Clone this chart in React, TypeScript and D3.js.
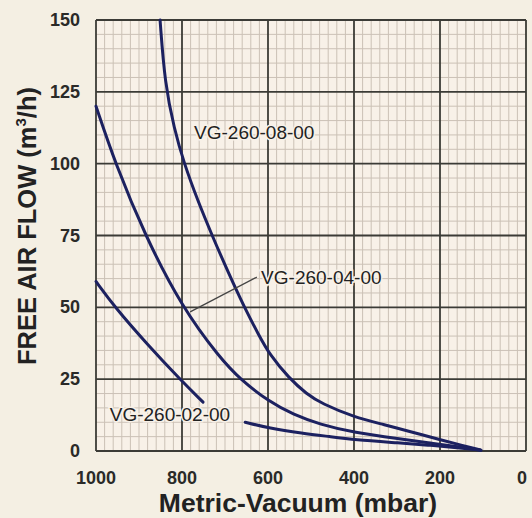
import { useEffect, useRef } from 'react'
import * as d3 from 'd3'

// vacuum (mbar) -> free air flow (m3/h)
const curve08: [number, number][] = [
  [851, 150], [840, 128], [818, 112], [795, 100], [763, 87], [730, 75],
  [692, 62], [655, 50], [622, 40.5], [596, 33.5], [552, 25.5], [510, 19.8],
  [475, 16.5], [400, 11.8], [330, 9.2], [270, 6.8], [200, 3.9], [150, 2], [105, 0.3],
]
const curve04: [number, number][] = [
  [1000, 120], [955, 100], [886, 75], [800, 50], [712, 32.4],
  [665, 25], [598, 17.2], [540, 12.6], [480, 9.3], [400, 6.4],
  [293, 4.2], [223, 2.8], [150, 1.3], [105, 0.3],
]
const curve02a: [number, number][] = [
  [1000, 59], [956, 50], [880, 37], [805, 25], [751, 17],
]
const curve02b: [number, number][] = [
  [653, 10], [598, 8], [520, 6.2], [456, 5], [400, 3.9],
  [293, 2.8], [223, 2], [150, 1], [105, 0.3],
]
const xTicks = [1000, 800, 600, 400, 200, 0]
const yTicks = [0, 25, 50, 75, 100, 125, 150]

const W = 532
const H = 518
const margin = { top: 20, right: 6, bottom: 67, left: 96 }

export default function App() {
  const svgRef = useRef<SVGSVGElement>(null)

  useEffect(() => {
    if (!svgRef.current) return
    const svg = d3.select(svgRef.current)
    svg.selectAll('*').remove()

    const x = d3.scaleLinear().domain([1000, 0]).range([margin.left, W - margin.right])
    const y = d3.scaleLinear().domain([0, 150]).range([H - margin.bottom, margin.top])

    svg.append('rect').attr('width', W).attr('height', H).attr('fill', '#f4efe3')
    svg.append('rect')
      .attr('x', x(1000)).attr('y', y(150))
      .attr('width', x(0) - x(1000)).attr('height', y(0) - y(150))
      .attr('fill', '#f8f1e8')

    // minor grid
    const g = svg.append('g')
    g.selectAll('line.mx')
      .data(d3.range(0, 1001, 20).filter(v => v % 200 !== 0))
      .join('line')
      .attr('x1', d => x(d)).attr('x2', d => x(d))
      .attr('y1', y(0)).attr('y2', y(150))
      .attr('stroke', '#cbc1b6').attr('stroke-width', 1)
    g.selectAll('line.my')
      .data(d3.range(0, 151, 5).filter(v => v % 25 !== 0))
      .join('line')
      .attr('y1', d => y(d)).attr('y2', d => y(d))
      .attr('x1', x(1000)).attr('x2', x(0))
      .attr('stroke', '#cbc1b6').attr('stroke-width', 1)

    // major grid
    const mj = svg.append('g')
    mj.selectAll('line.vx')
      .data(xTicks)
      .join('line')
      .attr('x1', d => x(d)).attr('x2', d => x(d))
      .attr('y1', y(0)).attr('y2', y(150))
      .attr('stroke', '#3b3b36').attr('stroke-width', 1.8)
    mj.selectAll('line.hy')
      .data(yTicks)
      .join('line')
      .attr('y1', d => y(d)).attr('y2', d => y(d))
      .attr('x1', x(1000)).attr('x2', x(0))
      .attr('stroke', '#3b3b36').attr('stroke-width', 1.8)

    // tick labels
    svg.append('g').selectAll('text')
      .data(xTicks)
      .join('text')
      .attr('x', d => x(d) + (d === 0 ? -4 : 0))
      .attr('y', 484)
      .attr('text-anchor', 'middle')
      .style('font-family', 'Liberation Sans, Arial, sans-serif')
      .style('font-size', '18px')
      .style('font-weight', 'bold')
      .style('fill', '#2a2a28')
      .text(d => d)
    svg.append('g').selectAll('text')
      .data(yTicks)
      .join('text')
      .attr('x', 80)
      .attr('y', d => y(d) + 6)
      .attr('text-anchor', 'end')
      .style('font-family', 'Liberation Sans, Arial, sans-serif')
      .style('font-size', '18px')
      .style('font-weight', 'bold')
      .style('fill', '#2a2a28')
      .text(d => d)

    // axis titles
    svg.append('text')
      .attr('x', 298).attr('y', 512)
      .attr('text-anchor', 'middle')
      .style('font-family', 'Liberation Sans, Arial, sans-serif')
      .style('font-size', '26.5px')
      .style('font-weight', 'bold')
      .style('fill', '#222')
      .text('Metric-Vacuum (mbar)')

    const yt = svg.append('text')
      .attr('transform', 'translate(36,226) rotate(-90)')
      .attr('text-anchor', 'middle')
      .style('font-family', 'Liberation Sans, Arial, sans-serif')
      .style('font-size', '25.5px')
      .style('font-weight', 'bold')
      .style('fill', '#222')
    yt.append('tspan').text('FREE AIR FLOW (m')
    yt.append('tspan').attr('dy', -10).style('font-size', '15px').text('3')
    yt.append('tspan').attr('dy', 10).text('/h)')

    // curves
    const line = d3.line<[number, number]>()
      .x(d => x(d[0]))
      .y(d => y(d[1]))
      .curve(d3.curveBasis)

    ;[curve08, curve04, curve02a, curve02b].forEach(c => {
      svg.append('path')
        .attr('d', line(c))
        .attr('fill', 'none')
        .attr('stroke', '#1c2160')
        .attr('stroke-width', 3)
        .attr('stroke-linecap', 'round')
    })

    // leader for the 04 label
    svg.append('line')
      .attr('x1', x(781)).attr('y1', y(48.4))
      .attr('x2', x(626)).attr('y2', y(60.5))
      .attr('stroke', '#444').attr('stroke-width', 1.3)

    const labels: [string, number, number][] = [
      ['VG-260-08-00', 772, 108.6],
      ['VG-260-04-00', 616, 58],
      ['VG-260-02-00', 968, 10.4],
    ]
    svg.append('g').selectAll('text')
      .data(labels)
      .join('text')
      .attr('x', d => x(d[1]))
      .attr('y', d => y(d[2]))
      .style('font-family', 'Liberation Sans, Arial, sans-serif')
      .style('font-size', '19px')
      .style('fill', '#222')
      .style('paint-order', 'stroke')
      .style('stroke', '#f8f1e8')
      .style('stroke-width', 3)
      .text(d => d[0])
  }, [])

  return (
    <div style={{ position: 'absolute', left: 0, top: 0 }}>
      <svg ref={svgRef} width={W} height={H} style={{ display: 'block' }} />
    </div>
  )
}
